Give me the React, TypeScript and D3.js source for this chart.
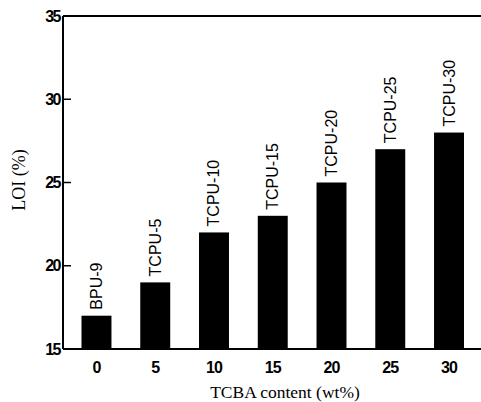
import React from "react";
import * as d3 from "d3";

const categories = ["0", "5", "10", "15", "20", "25", "30"];
const loiValues = [17, 19, 22, 23, 25, 27, 28];
const barLabels = ["BPU-9", "TCPU-5", "TCPU-10", "TCPU-15", "TCPU-20", "TCPU-25", "TCPU-30"];
const yTicks = [15, 20, 25, 30, 35];

const W = 481;
const H = 402;
const left = 63;
const top = 16;
const bottom = 349;
const right = 481;

export default function App() {
  const x = d3
    .scaleBand<string>()
    .domain(categories)
    .range([67.1, 478.4])
    .paddingInner(0.49)
    .paddingOuter(0.245);
  const y = d3.scaleLinear().domain([15, 35]).range([bottom, top]);
  const tickFont = "'Liberation Sans', Arial, sans-serif";
  const serif = "'Liberation Serif', 'Times New Roman', serif";

  return (
    <svg
      width={W}
      height={H}
      style={{ position: "absolute", left: 0, top: 0, background: "#fff" }}
    >
      <rect x={0} y={0} width={W} height={H} fill="#fff" />
      {categories.map((c, i) => {
        const bx = x(c)!;
        const by = y(loiValues[i]);
        return (
          <g key={c}>
            <rect x={bx} y={by} width={x.bandwidth()} height={bottom - by} fill="#000" />
            <text
              transform={`translate(${bx + x.bandwidth() / 2 + 5.5},${by - 6}) rotate(-90)`}
              fontFamily={tickFont}
              fontSize={16}
              fill="#000"
            >
              {barLabels[i]}
            </text>
            <text
              x={bx + x.bandwidth() / 2}
              y={373}
              textAnchor="middle"
              fontFamily={tickFont}
              fontWeight="bold"
              fontSize={16}
              letterSpacing={-1}
              fill="#000"
            >
              {c}
            </text>
          </g>
        );
      })}
      {/* axes */}
      <line x1={left} y1={top} x2={right} y2={top} stroke="#000" strokeWidth={2} />
      <line x1={left} y1={bottom} x2={right} y2={bottom} stroke="#000" strokeWidth={2} />
      <line x1={left} y1={top} x2={left} y2={bottom} stroke="#000" strokeWidth={2} />
      {yTicks.map((t) => (
        <g key={t}>
          <line x1={left} x2={left + 8} y1={y(t)} y2={y(t)} stroke="#000" strokeWidth={1.5} />
          <text
            x={60}
            y={y(t) + 5.5}
            textAnchor="end"
            fontFamily={tickFont}
            fontWeight="bold"
            fontSize={16}
            letterSpacing={-1.5}
            fill="#000"
          >
            {t}
          </text>
        </g>
      ))}
      <text
        transform={`translate(25,180) rotate(-90)`}
        textAnchor="middle"
        fontFamily={serif}
        fontSize={18}
        fill="#000"
      >
        LOI (%)
      </text>
      <text
        x={285}
        y={398}
        textAnchor="middle"
        fontFamily={serif}
        fontSize={17.5}
        fill="#000"
      >
        TCBA content (wt%)
      </text>
    </svg>
  );
}
